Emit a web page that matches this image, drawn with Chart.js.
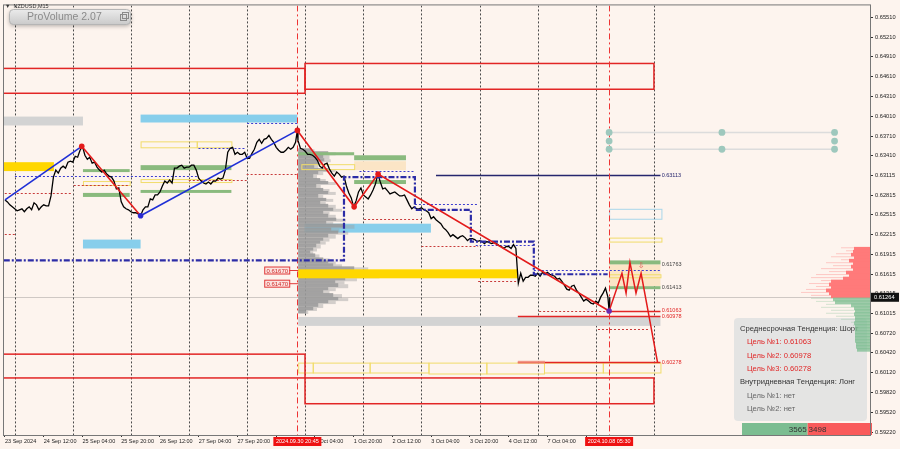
<!DOCTYPE html>
<html><head><meta charset="utf-8">
<script src="https://cdn.jsdelivr.net/npm/chart.js@4.4.1/dist/chart.umd.min.js"></script>
<style>html,body{margin:0;padding:0;background:#fdf4ee;}canvas{display:block;}</style>
</head><body>
<canvas id="c" width="900" height="449"></canvas>
<script>
// ---------- DATA (time in trading hours since 23 Sep 2024 00:00, weekend removed) ----------
const priceHours = [20,21,22,23,24,25,26,27,28,29,30,31,32,33,34,35,36,37,38,39,40,41,42,43,44,45,46,47,48,49,50,51,52,53,54,55,56,57,58,59,60,61,62,63,64,65,66,67,68,69,70,71,72,73,74,75,76,77,78,79,80,81,82,83,84,85,86,87,88,89,90,91,92,93,94,95,96,97,98,99,100,101,102,103,104,105,106,107,108,109,110,111,112,113,114,115,116,117,118,119,120,121,122,123,124,125,126,127,128,129,130,131,132,133,134,135,136,137,138,139,140,140.75,141,142,143,144,145,146,147,148,149,150,151,152,153,154,155,156,157,158,159,160,161,162,163,164,165,166,167,168,169,170,171,172,173,174,175,176,177,178,179,180,181,182,183,184,185,186,187,188,189,190,191,192,193,194,195,196,197,198,199,200,201,202,203,204,205,206,207,208,209,210,211,212,213,214,215,216,217,218,219,220,221,222,223,224,225,226,227,228,229,230,231,231.5,232,233,234,235,236,237,238,239,240,241,242,243,244,245,246,247,248,249,250,251,252,253,254,255,256,257,258,259,260,261,262,263,264,265,266,267,268,269,269.5,269.75];
const priceValues = [0.62741,0.62711,0.62666,0.62636,0.62606,0.62576,0.62591,0.62606,0.62561,0.62606,0.62636,0.62591,0.62696,0.62666,0.62591,0.62636,0.62666,0.62651,0.62651,0.62801,0.63087,0.63193,0.63147,0.63223,0.63253,0.63223,0.63313,0.63328,0.63313,0.63403,0.63388,0.63494,0.63554,0.63418,0.63358,0.63388,0.63298,0.63313,0.63238,0.63193,0.63163,0.63193,0.63132,0.63102,0.63087,0.63027,0.62907,0.62922,0.62711,0.62636,0.62606,0.62591,0.62561,0.62546,0.62546,0.62530,0.62500,0.62591,0.62636,0.62636,0.62756,0.62741,0.62816,0.62816,0.62862,0.62952,0.63027,0.62997,0.63042,0.62997,0.63223,0.63223,0.63253,0.63268,0.63223,0.63238,0.63238,0.63268,0.63268,0.63193,0.63072,0.63027,0.62997,0.62982,0.63012,0.62982,0.63027,0.63027,0.63072,0.63057,0.63072,0.63193,0.63464,0.63524,0.63539,0.63433,0.63464,0.63433,0.63433,0.63464,0.63373,0.63373,0.63448,0.63509,0.63614,0.63659,0.63599,0.63659,0.63674,0.63719,0.63659,0.63614,0.63539,0.63494,0.63464,0.63464,0.63494,0.63539,0.63509,0.63539,0.63614,0.63795,0.63644,0.63524,0.63509,0.63479,0.63433,0.63433,0.63418,0.63388,0.63343,0.63253,0.63223,0.63283,0.63298,0.63208,0.63147,0.63102,0.63163,0.63132,0.63087,0.63102,0.62952,0.62847,0.62771,0.62636,0.62726,0.62862,0.62922,0.62816,0.62786,0.62756,0.62816,0.62892,0.62982,0.63132,0.63012,0.62907,0.62922,0.62877,0.62832,0.62847,0.62862,0.62832,0.62801,0.62801,0.62816,0.62741,0.62666,0.62606,0.62636,0.62606,0.62606,0.62621,0.62591,0.62576,0.62546,0.62455,0.62485,0.62440,0.62410,0.62380,0.62320,0.62290,0.62245,0.62184,0.62214,0.62184,0.62154,0.62184,0.62199,0.62169,0.62124,0.62154,0.62154,0.62139,0.62109,0.62124,0.62109,0.62079,0.62109,0.62094,0.62079,0.62094,0.62079,0.62049,0.62034,0.62004,0.62034,0.62034,0.62004,0.62064,0.62004,0.61733,0.61477,0.61628,0.61507,0.61567,0.61567,0.61598,0.61598,0.61583,0.61628,0.61583,0.61643,0.61613,0.61643,0.61613,0.61598,0.61583,0.61537,0.61552,0.61507,0.61447,0.61387,0.61372,0.61432,0.61447,0.61372,0.61327,0.61266,0.61206,0.61236,0.61206,0.61176,0.61161,0.61206,0.61176,0.61266,0.61327,0.61402,0.61266,0.61056,0.61264];

const zigzagHours  = [20, 51.7, 76, 140.75, 164.2, 174.1, 269.5];
const zigzagPrices = [0.62741, 0.63554, 0.62500, 0.63795, 0.62636, 0.63132, 0.61056];

const projHours  = [269.5, 274.8, 276.5, 278.1, 280.6, 282.7, 289.5];
const projPrices = [0.61056, 0.61628, 0.61327, 0.61793, 0.61327, 0.61628, 0.60278];

const stepHours  = [19.5, 160, 160, 189.3, 189.3, 212.4, 212.4, 238.4, 238.4, 268.9];
const stepPrices = [0.61823, 0.61823, 0.63087, 0.63087, 0.62591, 0.62591, 0.62109, 0.62109, 0.61613, 0.61613];

// zones: [startHour, endHour, priceA, priceB]
const redFrames   = [[10,143.7,0.64743,0.64366],[143.7,287.8,0.64818,0.64427],[10,143.7,0.60409,0.60048],[143.7,287.8,0.60048,0.59657]];
const grayZones   = [[10,52.2,0.64005,0.63870],[141.1,290.7,0.60966,0.60830]];
const skyZones    = [[76,140.7,0.64035,0.63915],[52.2,76,0.62139,0.62004],[143.7,195.9,0.62380,0.62245]];
const goldZones   = [[10,40.2,0.63313,0.63178],[141.1,231.8,0.61688,0.61552]];
const greenZones  = [[52.2,71.5,0.63208,0.63163],[52.2,71.5,0.62847,0.62786],[76,113.5,0.63268,0.63193],[76,113.5,0.62892,0.62847],[141.1,164.2,0.63464,0.63418],[164.2,185.6,0.63418,0.63343],[164.2,185.6,0.63042,0.62982],[269.5,290.7,0.61823,0.61763],[269.5,290.7,0.61432,0.61387]];
const tanZones    = [[164.2,185.6,0.63328,0.63193],[269.5,290.7,0.61763,0.61432]];
const yellowFrames= [[76,99.2,0.63629,0.63539],[99.2,113.5,0.63629,0.63539],[76,113.5,0.63057,0.63012],[52.2,71.5,0.63027,0.62967],[142.4,164.2,0.63283,0.63208],[269.5,291.1,0.62169,0.62109],[269.5,290.7,0.61613,0.61567],[141.1,147.1,0.60273,0.60123],[147.1,170.6,0.60273,0.60123],[170.6,194.9,0.60273,0.60123],[194.9,218.8,0.60273,0.60108],[218.8,242.6,0.60273,0.60108],[242.6,266.9,0.60273,0.60123],[266.9,290.7,0.60273,0.60123]];
const blueFrames  = [[269.5,291.1,0.62606,0.62455]];

// horizontal segments: [startHour, endHour, price]
const redLevels    = [[269.5,290.7,0.61063],[231.8,290.7,0.60978],[231.8,290.7,0.60278]];
const navyLevels   = [[198,290.7,0.63113]];
const navyDotted   = [[166.4,189.3,0.63178],[189.3,215.4,0.62681],[214.4,238.4,0.62064],[238.4,290.7,0.61673],[24.1,99.9,0.63102],[99.9,118.9,0.63524],[120,140.7,0.63915]];
const redDotted    = [[10,47.7,0.62847],[48.4,71.5,0.62967],[95.9,119.8,0.63042],[119.8,141,0.63132],[10,24.1,0.62230],[168.3,191.9,0.62455],[192,215.4,0.62049],[215.4,231.8,0.61507],[240.6,269.5,0.61056],[264.9,286,0.60785]];

const levelLabels  = [0.63113, 0.61763, 0.61413, 0.61063, 0.60978, 0.60278];
const poLabels     = [0.61670, 0.61470];
const currentPrice = 0.61264;

const dotHours = [269.5, 316.1, 362.6];
const dotRowTop = 0.63764, dotRowMid = 0.63634, dotRowBottom = 0.63509;

// left volume profile (starts 30 Sep 20:45)
const profilePrices = [0.63509,0.63464,0.63418,0.63358,0.63313,0.63268,0.63208,0.63163,0.63117,0.63057,0.63012,0.62967,0.62907,0.62862,0.62816,0.62756,0.62711,0.62666,0.62606,0.62561,0.62515,0.62455,0.62410,0.62365,0.62305,0.62260,0.62214,0.62154,0.62109,0.62064,0.62004,0.61959,0.61914,0.61853,0.61808,0.61763,0.61718,0.61658,0.61613,0.61552,0.61507,0.61462,0.61402,0.61357,0.61312,0.61251,0.61206,0.61161,0.61101,0.61056];
const profileVolumes = [13,30,25,26,20,16,30,20,15,22,30,18,25,30,20,28,22,30,35,25,30,38,28,45,33,40,30,25,22,18,15,12,17,25,30,35,56,60,65,47,37,40,30,25,35,40,30,20,15,8];

// right-hand volume profile
const sellPrices = [0.62004,0.61959,0.61914,0.61868,0.61823,0.61778,0.61733,0.61688,0.61643,0.61598,0.61552,0.61507,0.61462,0.61417,0.61372,0.61327,0.61282];
const sellCore   = [17,18,20,17,22,18,20,18,25,22,28,40,42,40,45,42,40];
const sellWide   = [30,25,35,40,30,45,38,50,42,55,60,50,62,55,65,70,60];
const buyPrices  = [0.61236,0.61191,0.61146,0.61101,0.61056,0.61011,0.60966,0.60920,0.60875,0.60830,0.60785,0.60740,0.60695,0.60650,0.60604,0.60559,0.60514,0.60469];
const buyCore    = [38,36,20,17,16,17,16,16,17,16,16,16,16,16,16,15,15,14];
const buyWide    = [60,55,45,50,40,45,35,30,20,18,16,16,16,16,16,15,15,14];
const buyTotal = 3565, sellTotal = 3498;

// axes
const yTickValues = [0.65510,0.65210,0.64910,0.64610,0.64310,0.64010,0.63710,0.63410,0.63115,0.62815,0.62515,0.62215,0.61915,0.61615,0.61315,0.61015,0.60720,0.60420,0.60120,0.59820,0.59520,0.59220];
const yTickLabels = ['0.65510','0.65210','0.64910','0.64610','0.64310','0.64010','0.63710','0.63410','0.63115','0.62815','0.62515','0.62215','0.61915','0.61615','0.61315','0.61015','0.60720','0.60420','0.60120','0.59820','0.59520','0.59220'];
const xTickHours  = [20,36,52,68,84,100,116,132,148,164,180,196,212,228,244,260];
const xTickLabels = ['23 Sep 2024','24 Sep 12:00','25 Sep 04:00','25 Sep 20:00','26 Sep 12:00','27 Sep 04:00','27 Sep 20:00','30 Sep 12:00','1 Oct 04:00','1 Oct 20:00','2 Oct 12:00','3 Oct 04:00','3 Oct 20:00','4 Oct 12:00','7 Oct 04:00','7 Oct 20:00'];
const daySeparators = [24,48,72,96,120,144,168,192,216,240,264,288];
const markerHours  = [140.75, 269.5];
const markerLabels = ['2024.09.30 20:45','2024.10.08 05:30'];

const infoLines = [
  ['Среднесрочная Тенденция: Шорт','head'],
  ['Цель №1: 0.61063','red'],['Цель №2: 0.60978','red'],['Цель №3: 0.60278','red'],
  ['Внутридневная Тенденция: Лонг','head'],
  ['Цель №1: нет','gray'],['Цель №2: нет','gray']
];

// ---------- STYLE ----------
const segColors = ['#1f2fd6','#e31b1b','#1f2fd6','#e31b1b','#e31b1b','#e31b1b'];
const zzPointColors = ['rgba(0,0,0,0)','#e31b1b','#2b2bd0','#e31b1b','#e31b1b','#e31b1b','#6a2bb0'];
const FONT = 'Liberation Sans, Arial, sans-serif';

const overlay = {
  id: 'overlay',
  beforeDatasetsDraw(chart) {
    const {ctx, chartArea: a, scales: {x, y}} = chart;
    const X = v => x.getPixelForValue(v), Y = v => y.getPixelForValue(v);
    ctx.save();
    ctx.beginPath(); ctx.rect(a.left, a.top, a.right - a.left, a.bottom - a.top); ctx.clip();
    const fill = (arr, c) => { ctx.fillStyle = c; arr.forEach(z => { const y1 = Y(z[2]), y2 = Y(z[3]); ctx.fillRect(X(z[0]), Math.min(y1,y2), X(z[1]) - X(z[0]), Math.abs(y2-y1)); }); };
    const frame = (arr, c, w) => { ctx.strokeStyle = c; ctx.lineWidth = w; arr.forEach(z => { const y1 = Y(z[2]), y2 = Y(z[3]); ctx.strokeRect(X(z[0]) + .5, Math.min(y1,y2) + .5, X(z[1]) - X(z[0]), Math.abs(y2-y1)); }); };
    const hline = (arr, c, w, dash) => { ctx.strokeStyle = c; ctx.lineWidth = w; ctx.setLineDash(dash); arr.forEach(s => { const yy = Math.round(Y(s[2])) + .5; ctx.beginPath(); ctx.moveTo(X(s[0]), yy); ctx.lineTo(X(s[1]), yy); ctx.stroke(); }); ctx.setLineDash([]); };

    // current price line
    hline([[x.min, x.max, currentPrice]], '#cfc8c4', 1, []);
    // day separators
    ctx.strokeStyle = '#4a4a4a'; ctx.lineWidth = 1; ctx.setLineDash([2,2]);
    daySeparators.forEach(h => { const xx = Math.round(X(h)) + .5; ctx.beginPath(); ctx.moveTo(xx, a.top); ctx.lineTo(xx, a.bottom); ctx.stroke(); });
    ctx.setLineDash([]);

    fill(tanZones, '#fbe5c6');
    fill(grayZones, '#d3d3d3');
    fill(skyZones, '#87ceeb');
    // left volume profile (continuous histogram)
    const p0 = X(141.1);
    profilePrices.forEach((p, i) => {
      const yy = Y(p);
      const yn = i + 1 < profilePrices.length ? Y(profilePrices[i + 1]) : yy + 3;
      ctx.fillStyle = 'rgba(150,150,150,0.85)';
      ctx.fillRect(p0, yy - 1, profileVolumes[i], (yn - yy) * 0.7 + 1);
      ctx.fillStyle = 'rgba(160,160,160,0.45)';
      ctx.fillRect(p0, yy, profileVolumes[i] * 1.25, (yn - yy));
    });
    fill(goldZones, '#ffd700');
    fill(greenZones, '#8aba7e');
    frame(yellowFrames, '#f1dc6a', 1);
    frame(blueFrames, '#a9d6ea', 1);
    frame(redFrames, '#e22525', 1.5);
    hline(redDotted, '#c83a3a', 1, [2,2]);
    hline(navyDotted, '#3d3dd0', 1, [2,2]);
    hline(navyLevels, '#26266e', 1.5, []);
    hline(redLevels, '#e22525', 1.5, []);
    ctx.fillStyle = 'rgba(240,140,120,0.8)';
    ctx.fillRect(X(231.8), Y(0.60278) - 1.5, X(243) - X(231.8), 2.5);

    // marker verticals
    ctx.strokeStyle = '#e33'; ctx.lineWidth = 1; ctx.setLineDash([6,3,2,3]);
    markerHours.forEach(h => { const xx = Math.round(X(h)) + .5; ctx.beginPath(); ctx.moveTo(xx, a.top); ctx.lineTo(xx, a.bottom); ctx.stroke(); });
    ctx.setLineDash([]);

    // scenario dots
    ctx.strokeStyle = '#dcdcdc'; ctx.lineWidth = 1.5;
    [dotRowTop, dotRowBottom].forEach(p => { ctx.beginPath(); ctx.moveTo(X(dotHours[0]), Y(p)); ctx.lineTo(X(dotHours[2]), Y(p)); ctx.stroke(); });
    ctx.fillStyle = '#9ec8bd';
    const dot = (h, p) => { ctx.beginPath(); ctx.arc(X(h), Y(p), 3.4, 0, Math.PI * 2); ctx.fill(); };
    dotHours.forEach(h => { dot(h, dotRowTop); dot(h, dotRowBottom); });
    dot(dotHours[0], dotRowMid); dot(dotHours[2], dotRowMid);
    ctx.restore();
  },
  afterDatasetsDraw(chart) {
    const {ctx, chartArea: a, scales: {x, y}} = chart;
    const X = v => x.getPixelForValue(v), Y = v => y.getPixelForValue(v);
    ctx.save();
    // level labels
    ctx.font = '5.5px ' + FONT; ctx.textBaseline = 'middle'; ctx.textAlign = 'left';
    levelLabels.forEach((p, i) => { ctx.fillStyle = i === 0 ? '#26266e' : (i < 3 ? '#444' : '#e22525'); ctx.fillText(p.toFixed(5), X(291.2), Y(p)); });
    // small arrow
    ctx.fillStyle = '#e05050'; ctx.font = '8px DejaVu Sans'; ctx.textAlign = 'center';
    ctx.fillText('⇩', X(282.7), Y(0.61733));
    // PO labels
    ctx.font = '6px ' + FONT;
    poLabels.forEach(p => {
      const yy = Y(p), bx = X(141.1) - 34;
      ctx.fillStyle = '#fbe3df'; ctx.fillRect(bx, yy - 3.5, 25, 7);
      ctx.strokeStyle = '#e03a3a'; ctx.lineWidth = 1; ctx.strokeRect(bx + .5, yy - 3.5, 25, 7);
      ctx.beginPath(); ctx.moveTo(bx + 25, yy); ctx.lineTo(X(141.1), yy); ctx.stroke();
      ctx.fillStyle = '#d02a2a'; ctx.textAlign = 'center'; ctx.fillText(p.toFixed(5), bx + 13, yy + .5);
    });
    // info box
    ctx.fillStyle = 'rgba(226,226,226,0.92)';
    ctx.beginPath(); ctx.roundRect(734, 318, 133, 103, 4); ctx.fill();
    ctx.font = '7.6px ' + FONT; ctx.textAlign = 'left'; ctx.textBaseline = 'middle';
    infoLines.forEach((l, i) => {
      ctx.fillStyle = l[1] === 'head' ? '#333' : (l[1] === 'red' ? '#e02424' : '#666');
      ctx.fillText(l[0], l[1] === 'head' ? 740 : 747, 329 + i * 13.3);
    });
    // right profile
    const xr = a.right + 1;
    sellPrices.forEach((p, i) => { const yy = Y(p); ctx.fillStyle = 'rgba(255,120,120,0.35)'; ctx.fillRect(xr - sellWide[i], yy - 1.2, sellWide[i], 1); ctx.fillStyle = '#ff7a7a'; ctx.fillRect(xr - sellCore[i], yy - 1.6, sellCore[i], 3.6); });
    buyPrices.forEach((p, i) => { const yy = Y(p); ctx.fillStyle = 'rgba(120,185,140,0.3)'; ctx.fillRect(xr - buyWide[i], yy - 1.2, buyWide[i], 1); ctx.fillStyle = 'rgba(125,190,145,0.75)'; ctx.fillRect(xr - buyCore[i], yy - 1.6, buyCore[i], 3.6); });
    // volume totals bar
    const tot = buyTotal + sellTotal, bw = 130, bx0 = 742;
    const gw = bw * buyTotal / tot;
    ctx.fillStyle = '#7cbd91'; ctx.fillRect(bx0, 423, gw, 12);
    ctx.fillStyle = '#f95a5a'; ctx.fillRect(bx0 + gw, 423, bw - gw, 12);
    ctx.font = '8px ' + FONT; ctx.fillStyle = '#333';
    ctx.textAlign = 'right'; ctx.fillText(String(buyTotal), bx0 + gw - 1, 429.5);
    ctx.textAlign = 'left'; ctx.fillText(String(sellTotal), bx0 + gw + 1, 429.5);
    // frame
    ctx.strokeStyle = '#777'; ctx.lineWidth = 1;
    ctx.strokeRect(a.left - .5, a.top - .5, a.right - a.left + 1, a.bottom - a.top + 1);
    ctx.restore();
  },
  afterDraw(chart) {
    const {ctx, chartArea: a, scales: {x, y}} = chart;
    const X = v => x.getPixelForValue(v), Y = v => y.getPixelForValue(v);
    ctx.save();
    // marker time labels
    ctx.font = '5.5px ' + FONT; ctx.textAlign = 'center'; ctx.textBaseline = 'middle';
    markerHours.forEach((h, i) => {
      const cx = X(h);
      ctx.fillStyle = '#ee1111'; ctx.fillRect(cx - 24, a.bottom + 2, 48, 9);
      ctx.fillStyle = '#fff'; ctx.fillText(markerLabels[i], cx, a.bottom + 6.8);
    });
    // current price tag
    const cy = Y(currentPrice);
    ctx.fillStyle = '#111'; ctx.fillRect(a.right + 1, cy - 4.5, 28, 9);
    ctx.fillStyle = '#fff'; ctx.textAlign = 'left'; ctx.font = '5.7px ' + FONT;
    ctx.fillText(currentPrice.toFixed(5), a.right + 4, cy + .3);
    // symbol caption
    ctx.fillStyle = '#333'; ctx.font = '5.5px ' + FONT;
    ctx.fillText('▼  NZDUSD,M15', 5, 6.5);
    // ProVolume button
    ctx.shadowColor = 'rgba(0,0,0,0.3)'; ctx.shadowBlur = 4; ctx.shadowOffsetY = 1.5;
    const g = ctx.createLinearGradient(0, 9, 0, 25); g.addColorStop(0, '#ececec'); g.addColorStop(1, '#c9c9c9');
    ctx.fillStyle = g; ctx.beginPath(); ctx.roundRect(9.5, 9.5, 121, 15, 4); ctx.fill();
    ctx.shadowColor = 'transparent';
    ctx.strokeStyle = '#b5b5b5'; ctx.lineWidth = 1; ctx.stroke();
    ctx.fillStyle = '#8a8a8a'; ctx.font = '10.5px ' + FONT; ctx.textAlign = 'left';
    ctx.fillText('ProVolume 2.07', 27, 17.5);
    ctx.strokeStyle = '#8a8a8a'; ctx.strokeRect(120.5, 14.5, 6, 6); ctx.strokeRect(122.5, 12.5, 6, 6);
    ctx.restore();
  }
};

const chart = new Chart(document.getElementById('c'), {
  type: 'line',
  data: {
    datasets: [
      { data: zigzagHours.map((h, i) => ({x: h, y: zigzagPrices[i]})), borderWidth: 1.6, borderColor: '#e31b1b',
        segment: { borderColor: c => segColors[c.p0DataIndex] }, pointRadius: 2.8, pointBackgroundColor: zzPointColors, pointBorderWidth: 0, tension: 0 },
      { data: projHours.map((h, i) => ({x: h, y: projPrices[i]})), borderWidth: 1.5, borderColor: '#e31b1b', pointRadius: 0, tension: 0 },
      { data: stepHours.map((h, i) => ({x: h, y: stepPrices[i]})), borderWidth: 2.2, borderColor: '#2c2ca6', borderDash: [6,2,2,2], pointRadius: 0, tension: 0 },
      { data: priceHours.map((h, i) => ({x: h, y: priceValues[i]})), borderWidth: 1.3, borderColor: '#000', pointRadius: 0, tension: 0 }
    ]
  },
  options: {
    responsive: false, animation: false, events: [],
    layout: { padding: { left: 2, top: 2, right: 0, bottom: 0 } },
    plugins: { legend: { display: false }, tooltip: { enabled: false } },
    scales: {
      x: {
        type: 'linear', min: 19.59, max: 377.24, position: 'bottom',
        afterFit: s => { s.height = 14; },
        afterBuildTicks: s => { s.ticks = xTickHours.map(v => ({value: v})); },
        ticks: { autoSkip: false, maxRotation: 0, minRotation: 0, align: 'start', padding: 1, color: '#222',
                 font: { size: 5.5, family: FONT }, callback: (v, i) => xTickLabels[i] },
        grid: { drawOnChartArea: false, drawTicks: true, tickLength: 2, color: '#333' },
        border: { color: '#333', width: 1 }
      },
      y: {
        type: 'linear', position: 'right', min: 0.59175, max: 0.65691,
        afterFit: s => { s.width = 30; },
        afterBuildTicks: s => { s.ticks = yTickValues.map(v => ({value: v})); },
        ticks: { autoSkip: false, padding: 2, color: '#222', font: { size: 5.7, family: FONT }, callback: (v, i) => yTickLabels[i] },
        grid: { drawOnChartArea: false, drawTicks: true, tickLength: 3, color: '#333' },
        border: { color: '#333', width: 1 }
      }
    }
  },
  plugins: [overlay]
});
</script>
</body></html>
